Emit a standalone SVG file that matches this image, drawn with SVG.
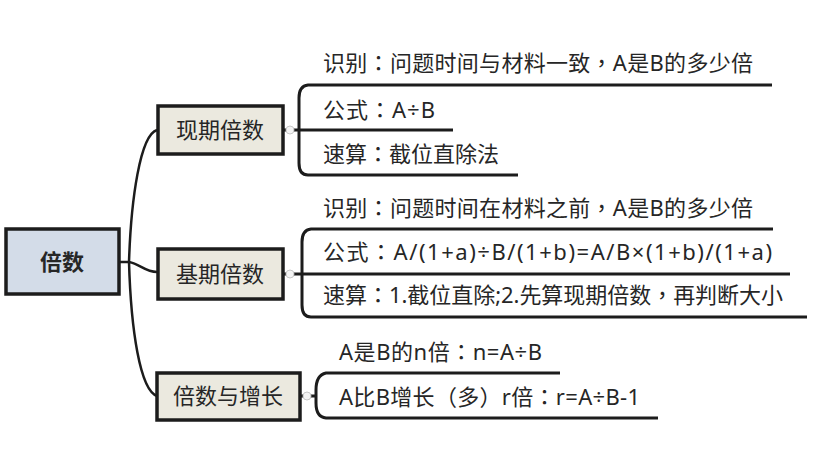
<svg xmlns="http://www.w3.org/2000/svg" width="815" height="451" viewBox="0 0 815 451">
<style>
.root{fill:#d3dce8;stroke:#1c1c1c;stroke-width:3.5}
.node{fill:#ebe9df;stroke:#1c1c1c;stroke-width:3.5}
.t{font-family:"Noto Sans","Noto Sans CJK SC",sans-serif;font-size:22px;fill:#262626}
.p{font-family:"Noto Sans CJK TC",sans-serif}
.c{text-anchor:middle}
.b{font-weight:bold}
.ln{fill:none;stroke:#1c1c1c;stroke-width:2.5}
.ul{fill:none;stroke:#1c1c1c;stroke-width:3}
.mk{fill:#f4f4f4;stroke:#c8c8c8;stroke-width:1}
</style>
<rect width="815" height="451" fill="#ffffff"/>
<g id="connectors">
<path class="ln" d="M120,262 L129,262 C131,200 140,135 157,130"/>
<path class="ln" d="M129,262 C140,264 145,272 157,272"/>
<path class="ln" d="M129,262 C131,330 140,390 157,396"/>
<path class="ul" d="M284,130 L453,130"/>
<path class="ul" d="M772,85 L308,85 Q299,86 299,98 L299,163 Q299,175 308,175 L518,175"/>
<path class="ul" d="M284,274 L790,274"/>
<path class="ul" d="M773,229 L311,229 Q302,230 302,242 L302,305 Q302,317 311,317 L807,317"/>
<path class="ul" d="M301,396 L316,396"/>
<path class="ul" d="M560,373 L326,373 Q316,375 316,390 L316,403 Q316,417 326,418 L658,418"/>
<circle class="mk" cx="290" cy="130" r="4"/>
<circle class="mk" cx="290" cy="274" r="4"/>
<circle class="mk" cx="307" cy="396" r="4"/>
</g>
<g id="root">
<rect class="root" x="6" y="229" width="113" height="65"/>
<text class="t c b" x="62" y="270">倍数</text>
</g>
<g id="n1">
<rect class="node" x="158" y="106" width="125" height="48"/>
<text class="t c" x="220" y="138">现期倍数</text>
</g>
<g id="n2">
<rect class="node" x="158" y="249" width="125" height="50"/>
<text class="t c" x="220" y="282">基期倍数</text>
</g>
<g id="n3">
<rect class="node" x="157" y="373" width="143" height="47"/>
<text class="t c" x="228" y="404">倍数与增长</text>
</g>
<g id="n1a"><text class="t" x="323" y="71" textLength="430">识别<tspan class="p">：</tspan>问题时间与材料一致<tspan class="p">，</tspan>A是B的多少倍</text></g>
<g id="n1b"><text class="t" x="323" y="118" textLength="112">公式<tspan class="p">：</tspan>A÷B</text></g>
<g id="n1c"><text class="t" x="323" y="162">速算<tspan class="p">：</tspan>截位直除法</text></g>
<g id="n2a"><text class="t" x="323" y="216" textLength="430">识别<tspan class="p">：</tspan>问题时间在材料之前<tspan class="p">，</tspan>A是B的多少倍</text></g>
<g id="n2b"><text class="t" x="323" y="260" textLength="449">公式<tspan class="p">：</tspan>A/(1+a)÷B/(1+b)=A/B×(1+b)/(1+a)</text></g>
<g id="n2c"><text class="t" x="323" y="303" textLength="460">速算<tspan class="p">：</tspan>1.截位直除;2.先算现期倍数<tspan class="p">，</tspan>再判断大小</text></g>
<g id="n3a"><text class="t" x="339" y="360" textLength="203">A是B的n倍<tspan class="p">：</tspan>n=A÷B</text></g>
<g id="n3b"><text class="t" x="339" y="405" textLength="301">A比B增长<tspan class="p">（</tspan>多<tspan class="p">）</tspan>r倍<tspan class="p">：</tspan>r=A÷B-1</text></g>
</svg>
